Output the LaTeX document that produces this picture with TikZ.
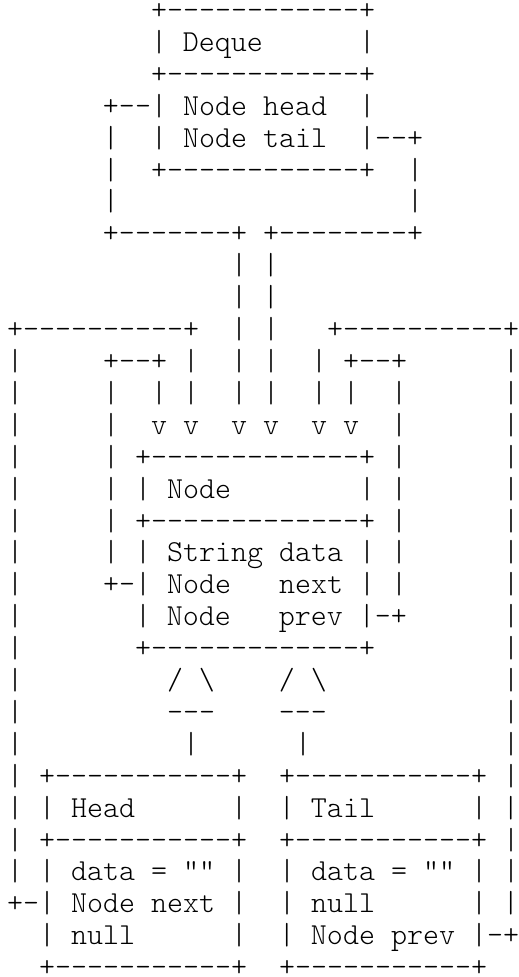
\documentclass[tikz,border=0pt]{standalone}
\usepackage{fontspec}
\setmonofont{lmmonolt10-regular.otf}
\begin{document}
\begin{tikzpicture}[
  asciirow/.style={anchor=base west, inner sep=0pt, outer sep=0pt,
    font=\ttfamily\fontsize{15.238pt}{16pt}\selectfont, text=black}]
\useasboundingbox (0,0) rectangle (259pt,-488.5pt);
\node[asciirow] (r1)  at (3.5pt,{-(25.75-1*15.95)*1pt}) {~~~~~~~~~+------------+};
\node[asciirow] (r2)  at (3.5pt,{-(25.75+0*15.95)*1pt}) {~~~~~~~~~|~Deque~~~~~~|};
\node[asciirow] (r3)  at (3.5pt,{-(25.75+1*15.95)*1pt}) {~~~~~~~~~+------------+};
\node[asciirow] (r4)  at (3.5pt,{-(25.75+2*15.95)*1pt}) {~~~~~~+--|~Node~head~~|};
\node[asciirow] (r5)  at (3.5pt,{-(25.75+3*15.95)*1pt}) {~~~~~~|~~|~Node~tail~~|--+};
\node[asciirow] (r6)  at (3.5pt,{-(25.75+4*15.95)*1pt}) {~~~~~~|~~+------------+~~|};
\node[asciirow] (r7)  at (3.5pt,{-(25.75+5*15.95)*1pt}) {~~~~~~|~~~~~~~~~~~~~~~~~~|};
\node[asciirow] (r8)  at (3.5pt,{-(25.75+6*15.95)*1pt}) {~~~~~~+-------+~+--------+};
\node[asciirow] (r9)  at (3.5pt,{-(25.75+7*15.95)*1pt}) {~~~~~~~~~~~~~~|~|};
\node[asciirow] (r10) at (3.5pt,{-(25.75+8*15.95)*1pt}) {~~~~~~~~~~~~~~|~|};
\node[asciirow] (r11) at (3.5pt,{-(25.75+9*15.95)*1pt}) {+----------+~~|~|~~~+----------+};
\node[asciirow] (r12) at (3.5pt,{-(25.75+10*15.95)*1pt}) {|~~~~~+--+~|~~|~|~~|~+--+~~~~~~|};
\node[asciirow] (r13) at (3.5pt,{-(25.75+11*15.95)*1pt}) {|~~~~~|~~|~|~~|~|~~|~|~~|~~~~~~|};
\node[asciirow] (r14) at (3.5pt,{-(25.75+12*15.95)*1pt}) {|~~~~~|~~v~v~~v~v~~v~v~~|~~~~~~|};
\node[asciirow] (r15) at (3.5pt,{-(25.75+13*15.95)*1pt}) {|~~~~~|~+-------------+~|~~~~~~|};
\node[asciirow] (r16) at (3.5pt,{-(25.75+14*15.95)*1pt}) {|~~~~~|~|~Node~~~~~~~~|~|~~~~~~|};
\node[asciirow] (r17) at (3.5pt,{-(25.75+15*15.95)*1pt}) {|~~~~~|~+-------------+~|~~~~~~|};
\node[asciirow] (r18) at (3.5pt,{-(25.75+16*15.95)*1pt}) {|~~~~~|~|~String~data~|~|~~~~~~|};
\node[asciirow] (r19) at (3.5pt,{-(25.75+17*15.95)*1pt}) {|~~~~~+-|~Node~~~next~|~|~~~~~~|};
\node[asciirow] (r20) at (3.5pt,{-(25.75+18*15.95)*1pt}) {|~~~~~~~|~Node~~~prev~|-+~~~~~~|};
\node[asciirow] (r21) at (3.5pt,{-(25.75+19*15.95)*1pt}) {|~~~~~~~+-------------+~~~~~~~~|};
\node[asciirow] (r22) at (3.5pt,{-(25.75+20*15.95)*1pt}) {|~~~~~~~~~/~\textbackslash~~~~/~\textbackslash~~~~~~~~~~~|};
\node[asciirow] (r23) at (3.5pt,{-(25.75+21*15.95)*1pt}) {|~~~~~~~~~---~~~~---~~~~~~~~~~~|};
\node[asciirow] (r24) at (3.5pt,{-(25.75+22*15.95)*1pt}) {|~~~~~~~~~~|~~~~~~|~~~~~~~~~~~~|};
\node[asciirow] (r25) at (3.5pt,{-(25.75+23*15.95)*1pt}) {|~+-----------+~~+-----------+~|};
\node[asciirow] (r26) at (3.5pt,{-(25.75+24*15.95)*1pt}) {|~|~Head~~~~~~|~~|~Tail~~~~~~|~|};
\node[asciirow] (r27) at (3.5pt,{-(25.75+25*15.95)*1pt}) {|~+-----------+~~+-----------+~|};
\node[asciirow] (r28) at (3.5pt,{-(25.75+26*15.95)*1pt}) {|~|~data~=~""~|~~|~data~=~""~|~|};
\node[asciirow] (r29) at (3.5pt,{-(25.75+27*15.95)*1pt}) {+-|~Node~next~|~~|~null~~~~~~|~|};
\node[asciirow] (r30) at (3.5pt,{-(25.75+28*15.95)*1pt}) {~~|~null~~~~~~|~~|~Node~prev~|-+};
\node[asciirow] (r31) at (3.5pt,{-(25.75+29*15.95)*1pt}) {~~+-----------+~~+-----------+};
\end{tikzpicture}
\end{document}
